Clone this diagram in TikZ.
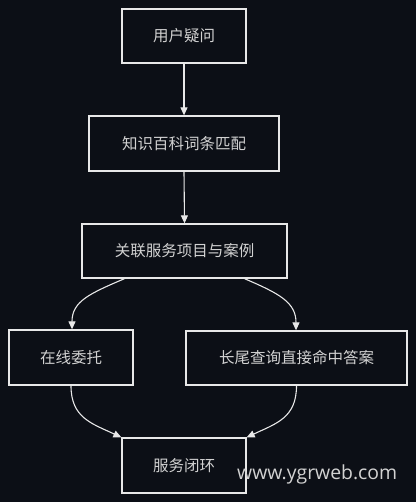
\documentclass[tikz,border=0pt]{standalone}
\usepackage{fontspec}
\newfontfamily\cjk{Noto Sans CJK SC}
\newfontfamily\wmfont{Open Sans}
\usetikzlibrary{arrows.meta}
\definecolor{bgdark}{HTML}{0C0F16}
\definecolor{lineclr}{HTML}{E8E8E8}
\definecolor{txtclr}{HTML}{D2D2D2}
\tikzset{
  stepbox/.style={draw=lineclr, line width=1.3pt, inner sep=0pt, text=txtclr,
    font=\cjk\fontsize{15.5}{18}\selectfont, minimum height=54pt},
  flow/.style={draw=lineclr, line width=1.1pt, -{Triangle[width=7pt,length=8pt]}}
}
\begin{document}
\begin{tikzpicture}[x=1pt,y=-1pt]
\fill[bgdark] (0,0) rectangle (416,502);
\useasboundingbox (0,0) rectangle (416,502);
\node[stepbox, minimum width=124pt] (ask) at (184,36) {用户疑问};
\node[stepbox, minimum width=190pt, minimum height=55pt] (match) at (184,143.5) {知识百科词条匹配};
\node[stepbox, minimum width=205pt] (link) at (184.5,251) {关联服务项目与案例};
\node[stepbox, minimum width=124pt, minimum height=55pt] (online) at (71,357.5) {在线委托};
\node[stepbox, minimum width=221pt] (hit) at (296.5,358) {长尾查询直接命中答案};
\node[stepbox, minimum width=124pt, minimum height=55pt] (close) at (184,465.5) {服务闭环};
% straight steps
\draw[flow] (ask.south) -- (match.north);
\draw[flow] (match.south) -- (link.north);
% split and join
\draw[flow] ([xshift=-60pt]link.south) .. controls +(-35,15) and +(0,-28) .. ([xshift=1pt]online.north);
\draw[flow] ([xshift=60pt]link.south) .. controls +(35,15) and +(0,-28) .. ([xshift=-0.5pt]hit.north);
\draw[flow] (online.south) .. controls +(0,32) and +(-30,-14) .. (close.north west);
\draw[flow] (hit.south) .. controls +(0,32) and +(30,-14) .. (close.north east);
\node[anchor=base west, text=txtclr, font=\wmfont\fontsize{19.4}{22}\selectfont, inner sep=0pt] (mark) at (237,479) {www.ygrweb.com};
\end{tikzpicture}
\end{document}
